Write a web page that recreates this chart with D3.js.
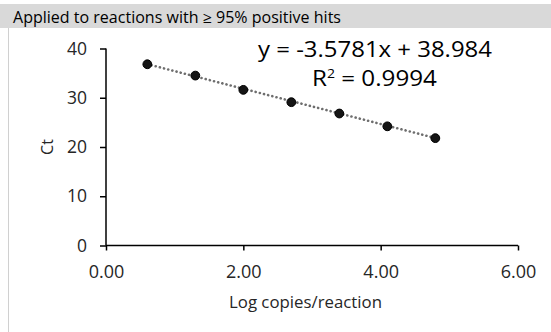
<!DOCTYPE html>
<html>
<head>
<meta charset="utf-8">
<script src="https://cdn.jsdelivr.net/npm/d3@7"></script>
<style>
  body { margin: 0; background: #fff; }
  text { font-family: "Open Sans", sans-serif; }
</style>
</head>
<body>
<svg id="chart" width="551" height="332"></svg>
<script>
// log copies per reaction (5-fold dilutions) and measured Ct
const logCopies = [0.602, 1.301, 2.0, 2.699, 3.398, 4.097, 4.796];
const ctValues = [36.8, 34.5, 31.6, 29.1, 26.8, 24.2, 21.8];
const xTicks = [0, 2, 4, 6];
const yTicks = [0, 10, 20, 30, 40];
const slope = -3.5781, intercept = 38.984, rSquared = 0.9994;
const title = "Applied to reactions with \u2265 95% positive hits";

let svg = d3.select("#chart");
let m = { left: 106, right: 33, top: 48.5, bottom: 86.5 };
let width = +svg.attr("width") - m.left - m.right;
let height = +svg.attr("height") - m.top - m.bottom;

// header band + left frame line
svg.append("rect")
  .attr("x", 0).attr("y", 4).attr("width", 551).attr("height", 24)
  .attr("fill", "#d9d9d9");
svg.append("line")
  .attr("x1", 8.5).attr("x2", 8.5).attr("y1", 28).attr("y2", 332)
  .attr("stroke", "#d0d0d0").attr("stroke-width", 1);
svg.append("text")
  .attr("x", 13).attr("y", 22.5)
  .attr("font-size", 15.4).attr("fill", "#000")
  .attr("textLength", 328).attr("lengthAdjust", "spacingAndGlyphs")
  .text(title);

let g = svg.append("g").attr("transform", `translate(${m.left},${m.top})`);

let x = d3.scaleLinear().domain([0, 6]).range([0, width]);
let y = d3.scaleLinear().domain([0, 40]).range([height, 0]);

let yAxis = g.append("g")
  .call(d3.axisLeft(y).tickValues(yTicks).tickSize(6).tickPadding(13).tickFormat(d3.format("d")));
let xAxis = g.append("g")
  .attr("transform", `translate(0,${height})`)
  .call(d3.axisBottom(x).tickValues(xTicks).tickSize(5).tickPadding(15).tickFormat(d3.format(".2f")));

[xAxis, yAxis].forEach(a => {
  a.select(".domain").attr("stroke", "#000").attr("stroke-width", 1.5);
  a.selectAll(".tick line").attr("stroke", "#000").attr("stroke-width", 1.5);
  a.selectAll(".tick text")
    .attr("font-size", 17.5).attr("fill", "#262626")
    .style("font-family", "'Open Sans', sans-serif");
});
xAxis.selectAll(".tick text").attr("font-size", 18);
// remove outer tick caps from domain paths
yAxis.select(".domain").attr("d", `M0,${height}V0`);
xAxis.select(".domain").attr("d", `M0,0H${width}`);

// trendline from the fitted equation, over the data range
let xExt = d3.extent(logCopies);
let trend = xExt.map(v => [v, slope * v + intercept]);
g.append("path")
  .datum(trend)
  .attr("d", d3.line().x(d => x(d[0])).y(d => y(d[1])))
  .attr("fill", "none")
  .attr("stroke", "#6e6e6e")
  .attr("stroke-width", 2.6)
  .attr("stroke-linecap", "round")
  .attr("stroke-dasharray", "0.1 4.2");

// markers
g.selectAll("circle.pt")
  .data(logCopies.map((v, i) => [v, ctValues[i]]))
  .join("circle")
  .attr("class", "pt")
  .attr("cx", d => x(d[0]))
  .attr("cy", d => y(d[1]))
  .attr("r", 4.4)
  .attr("fill", "#151515")
  .attr("stroke", "#000")
  .attr("stroke-width", 1);

// equation labels
svg.append("text")
  .attr("x", 258).attr("y", 57)
  .attr("font-size", 22.4).attr("fill", "#000")
  .attr("textLength", 234).attr("lengthAdjust", "spacingAndGlyphs")
  .text(`y = ${slope}x + ${intercept}`);
let r2 = svg.append("text")
  .attr("x", 312).attr("y", 86)
  .attr("font-size", 22.4).attr("fill", "#000");
r2.append("tspan").text("R");
r2.append("tspan").attr("font-size", 13).attr("dy", -8).text("2");
r2.append("tspan").attr("dy", 8).text(` = ${rSquared}`);
// stretch to the reference width
let r2w = r2.node().getComputedTextLength();
r2.attr("transform", `translate(312,0) scale(${125 / r2w},1) translate(-312,0)`);

// axis titles
svg.append("text")
  .attr("x", 229).attr("y", 308)
  .attr("font-size", 17).attr("fill", "#262626")
  .attr("textLength", 153).attr("lengthAdjust", "spacingAndGlyphs")
  .text("Log copies/reaction");
svg.append("text")
  .attr("transform", `translate(53,${m.top + y(20)}) rotate(-90)`)
  .attr("text-anchor", "middle")
  .attr("font-size", 16).attr("fill", "#262626")
  .text("Ct");
</script>
</body>
</html>
